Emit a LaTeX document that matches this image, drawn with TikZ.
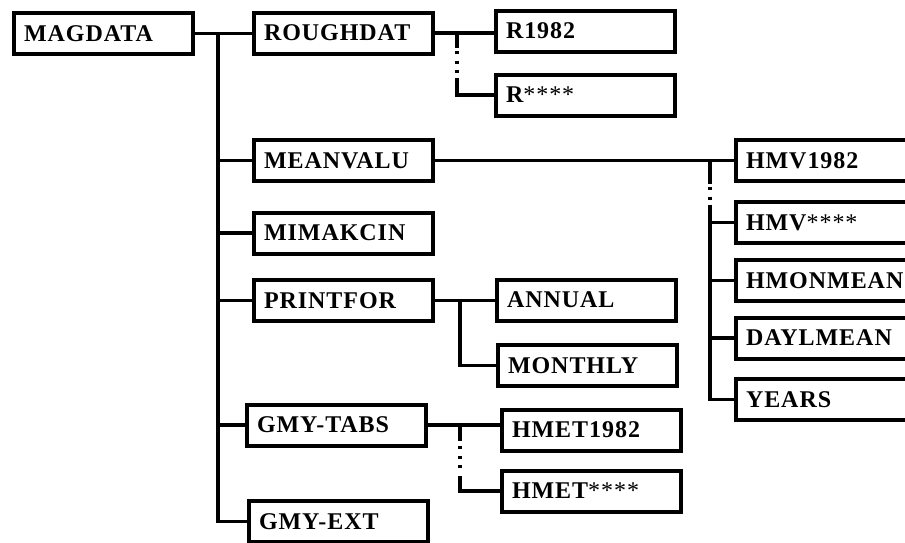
\documentclass[tikz,border=0pt]{standalone}
\usepackage{fontspec}
\setmainfont{Liberation Serif}[LetterSpace=4]

\begin{document}
\begin{tikzpicture}[x=1pt, y=-1pt, box/.style={draw, line width=4pt, anchor=west, text width=159pt, inner xsep=10pt, minimum height=41pt, align=left, font=\fontsize{24}{28}\selectfont\bfseries}, link/.style={line width=3.3pt}, gap/.style={line width=3.3pt, dash pattern=on 3.3pt off 6.2pt}]
\clip (0,0) rectangle (905,542);
% left column and trunk
\node[box] (magdata) at (12,33.5) {MAGDATA};
\node[box] (roughdat) at (252,33) {ROUGHDAT};\node[box] (meanvalu) at (252,160.5) {MEANVALU};
\node[box] (mimakcin) at (252,233) {MIMAKCIN};\node[box] (printfor) at (252,300.5) {PRINTFOR};
\node[box] (gmytabs) at (245,425) {GMY-TABS};\node[box] (gmyext) at (247,521.5) {GMY-EXT};
\coordinate (trunk) at (218,33.5);
\draw[link] (magdata.east) -- (magdata.east -| roughdat.west) (trunk) |- (gmyext.west);
\foreach \n in {meanvalu, mimakcin, printfor, gmytabs} \draw[link] (trunk |- \n.west) -- (\n.west);
% second column
\node[box] (r1982) at (494,31) {R1982};\node[box] (rstar) at (494,95) {R{\mdseries****}};
\node[box] (annual) at (495,300) {ANNUAL};\node[box] (monthly) at (496,365.5) {MONTHLY};
\node[box] (hmet1982) at (500,430) {HMET1982};\node[box] (hmetstar) at (500,491) {HMET{\mdseries****}};
\coordinate (rj) at (457,0);\coordinate (pj) at (460,0);
\draw[link] (roughdat.east) -- (roughdat.east -| r1982.west) (roughdat.east -| rj) -- ++(0,15) (rj |- rstar.west) ++(0,-17) -- (rj |- rstar.west) -- (rstar.west);
\draw[gap] (roughdat.east -| rj) ++(0,18) -- ++(0,24);
\draw[link] (printfor.east) -- (printfor.east -| annual.west) (printfor.east -| pj) |- (monthly.west);
\draw[link] (gmytabs.east) -- (gmytabs.east -| hmet1982.west) (gmytabs.east -| pj) -- ++(0,16) (pj |- hmetstar.west) ++(0,-15) -- (pj |- hmetstar.west) -- (hmetstar.west);
\draw[gap] (gmytabs.east -| pj) ++(0,21) -- ++(0,24);
% third column
\node[box] (hmv1982) at (734,160.5) {HMV1982};\node[box] (hmvstar) at (734,222.5) {HMV{\mdseries****}};
\node[box] (hmonmean) at (734,280.5) {HMONMEAN};\node[box] (daylmean) at (734,338) {DAYLMEAN};
\node[box] (years) at (734,399.5) {YEARS};
\coordinate (mj) at (710,0);
\draw[link] (meanvalu.east) -- (hmv1982.west) (meanvalu.east -| mj) -- ++(0,23) (mj |- hmvstar.west) ++(0,-18) |- (years.west);
\draw[gap] (meanvalu.east -| mj) ++(0,26.5) -- ++(0,13);
\foreach \n in {hmvstar, hmonmean, daylmean} \draw[link] (mj |- \n.west) -- (\n.west);
\end{tikzpicture}
\end{document}
